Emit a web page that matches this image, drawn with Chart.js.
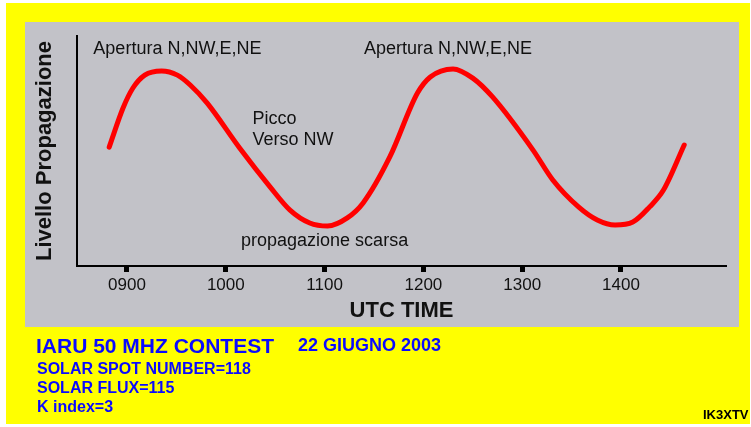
<!DOCTYPE html>
<html>
<head>
<meta charset="utf-8">
<script src="https://cdn.jsdelivr.net/npm/chart.js@4.4.1/dist/chart.umd.min.js"></script>
<style>
	html, body { margin: 0; padding: 0; background: #fff; width: 751px; height: 427px; overflow: hidden; }
	#frame { position: absolute; left: 6px; top: 3px; width: 744px; height: 421px; background: #ffff00; }
	#panel { position: absolute; left: 25px; top: 22px; width: 714px; height: 305px; background: #c2c2c8; }
	#wrap { position: absolute; left: 0; top: 0; width: 751px; height: 427px; }
	.info { position: absolute; font-family: "Liberation Sans", Arial, sans-serif; font-weight: bold; color: #0a0aff; line-height: 1; white-space: nowrap; }
</style>
</head>
<body>
<div id="frame"></div>
<div id="panel"></div>
<div id="wrap"><canvas id="p-chart" width="751" height="427"></canvas></div>
<div class="info" style="left:36px; top:335px; font-size:21px;">IARU 50 MHZ CONTEST</div>
<div class="info" style="left:298px; top:336px; font-size:18px;">22 GIUGNO 2003</div>
<div class="info" style="left:37px; top:361px; font-size:16px;">SOLAR SPOT NUMBER=118</div>
<div class="info" style="left:37px; top:380px; font-size:16px;">SOLAR FLUX=115</div>
<div class="info" style="left:37px; top:399px; font-size:16px;">K index=3</div>
<div class="info" style="left:703px; top:408px; font-size:13px; color:#000;">IK3XTV</div>
<script>
	// UTC time in hours and propagation level (0-100)
	var utcHours = [8.82, 8.96, 9.06, 9.18, 9.35, 9.51, 9.64, 9.81, 10.14, 10.45, 10.65, 10.85, 11.03, 11.23, 11.39,
		11.66, 11.94, 12.07, 12.30, 12.50, 12.70, 13.11, 13.31, 13.57, 13.76, 13.94, 14.12, 14.29, 14.43, 14.64];
	var propagationLevel = [51.7, 68.7, 77.4, 83.0, 84.8, 83.0, 78.7, 70.9, 51.3, 34.3, 24.3, 18.7, 17.4, 20.9, 27.4,
		47.4, 75.2, 82.2, 85.7, 81.7, 73.5, 50.4, 37.4, 25.7, 20.0, 17.8, 19.1, 25.7, 33.0, 52.6];
	var tickHours = [9, 10, 11, 12, 13, 14];

	var noteLabels = ['Apertura N,NW,E,NE', 'Apertura N,NW,E,NE', 'Picco', 'Verso NW', 'propagazione scarsa'];
	var noteHours = [9.51, 12.25, 10.27, 10.27, 11.0];
	var noteLevels = [94.3, 94.3, 63.9, 54.8, 10.9];

	var FONT = '"Liberation Sans", Arial, sans-serif';

	// text notes placed on the curve
	var notesPlugin = {
		id: 'notes',
		afterDatasetsDraw: function (chart) {
			var ctx = chart.ctx;
			var xs = chart.scales.x;
			var ys = chart.scales.y;
			ctx.save();
			ctx.font = '18px ' + FONT;
			ctx.fillStyle = '#111';
			ctx.textBaseline = 'middle';
			noteLabels.forEach(function (text, i) {
				ctx.textAlign = (text === 'Picco' || text === 'Verso NW') ? 'left' : 'center';
				ctx.fillText(text, xs.getPixelForValue(noteHours[i]), ys.getPixelForValue(noteLevels[i]));
			});
			ctx.restore();
		}
	};

	var pChart = new Chart(document.getElementById('p-chart'), {
		type: 'line',
		data: {
			datasets: [{
				data: utcHours.map(function (h, i) { return { x: h, y: propagationLevel[i] }; }),
				borderColor: '#ff0000',
				borderWidth: 5,
				borderCapStyle: 'round',
				borderJoinStyle: 'round',
				pointRadius: 0,
				fill: false,
				cubicInterpolationMode: 'monotone'
			}]
		},
		options: {
			responsive: false,
			animation: false,
			events: [],
			layout: { padding: { left: 25, top: 36, right: 25, bottom: 100 } },
			plugins: { legend: { display: false }, tooltip: { enabled: false } },
			scales: {
				x: {
					type: 'linear',
					min: 8.494,
					max: 15.063,
					afterBuildTicks: function (scale) {
						scale.ticks = tickHours.map(function (v) { return { value: v }; });
					},
					afterFit: function (scale) { scale.height = 61; },
					ticks: {
						color: '#111',
						padding: 3,
						font: { family: FONT, size: 17 },
						callback: function (v) { return String(v * 100).padStart(4, '0'); }
					},
					grid: { display: true, drawOnChartArea: false, drawTicks: true, tickLength: 6, tickWidth: 5, tickColor: '#000' },
					border: { display: true, color: '#000', width: 2 },
					title: { display: true, text: 'UTC TIME', color: '#111', font: { family: FONT, size: 22, weight: 'bold' }, padding: { top: 3, bottom: 3 } }
				},
				y: {
					min: 0,
					max: 100,
					afterFit: function (scale) { scale.width = 52; },
					ticks: { display: false },
					grid: { display: false },
					border: { display: true, color: '#000', width: 2 },
					title: { display: true, text: 'Livello Propagazione', color: '#111', font: { family: FONT, size: 22, weight: 'bold' }, padding: { top: 7, bottom: 7 } }
				}
			}
		},
		plugins: [notesPlugin]
	});
</script>
</body>
</html>
